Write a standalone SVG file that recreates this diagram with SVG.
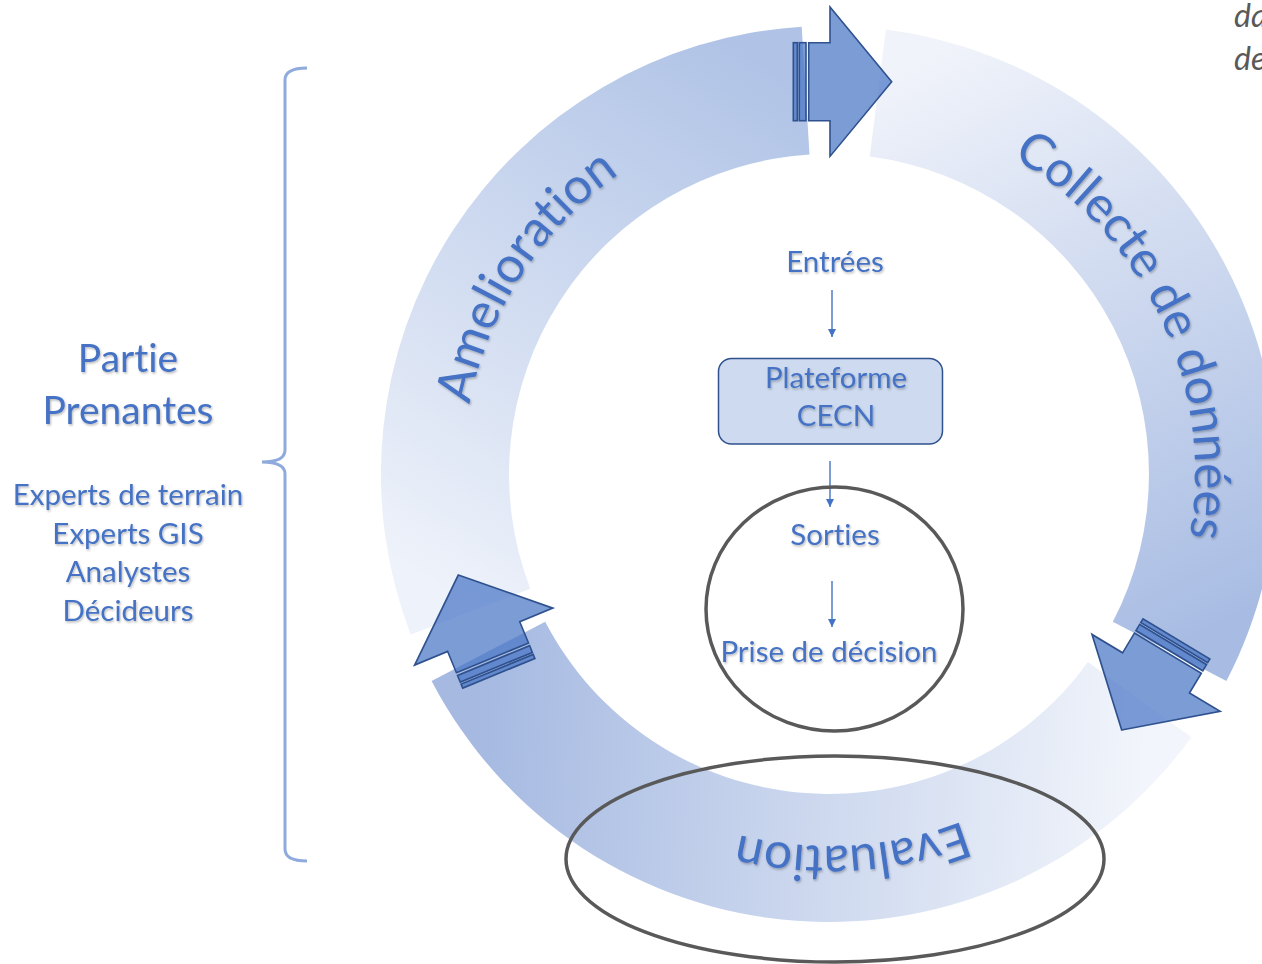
<svg xmlns="http://www.w3.org/2000/svg" width="1262" height="964" viewBox="0 0 1262 964">
<style>
text{font-variant-ligatures:none;font-feature-settings:"liga" 0,"clig" 0}
.t{font-family:Lato,"Open Sans","Liberation Sans",sans-serif;fill:#4472c4;filter:url(#ts)}
.arc{font-size:50px}
.side{font-size:29.5px;text-anchor:middle}
.big{font-size:39px;text-anchor:middle}
.ctr{font-size:29.5px;text-anchor:middle}
.blk{fill:#4472c4;fill-opacity:0.7;stroke:#2f528f;stroke-width:1.6;stroke-linejoin:miter}
.ln{stroke:#4472c4;stroke-width:1.4;fill:none}
.ring{fill:none;stroke:#595959;stroke-width:3.5}
</style>
<defs>
<filter id="ts" x="-10%" y="-20%" width="120%" height="150%">
<feDropShadow dx="1" dy="1.5" stdDeviation="1" flood-color="#000" flood-opacity="0.28"/>
</filter>
<linearGradient id="gA" gradientUnits="userSpaceOnUse" x1="470" y1="610" x2="805" y2="90">
<stop offset="0" stop-color="#eef2fa"/><stop offset="1" stop-color="#b0c3e6"/>
</linearGradient>
<linearGradient id="gC" gradientUnits="userSpaceOnUse" x1="880" y1="80" x2="1170" y2="650">
<stop offset="0" stop-color="#f0f3fa"/><stop offset="1" stop-color="#a8bce3"/>
</linearGradient>
<linearGradient id="gE" gradientUnits="userSpaceOnUse" x1="1150" y1="700" x2="480" y2="650">
<stop offset="0" stop-color="#f2f5fb"/><stop offset="1" stop-color="#a5b9e1"/>
</linearGradient>
<marker id="ah" viewBox="0 0 10 10" refX="10" refY="5" markerWidth="8" markerHeight="9" markerUnits="userSpaceOnUse" orient="auto">
<path d="M0,0 L10,5 L0,10 Z" fill="#4472c4"/>
</marker>
<g id="sarrow">
<path class="blk" d="M0,0 L-61.7,-74.7 L-61.7,-39 L-83,-39 L-83,39 L-61.7,39 L-61.7,74.7 Z"/>
<rect class="blk" x="-92.4" y="-39" width="6.7" height="78"/>
<rect class="blk" x="-98.4" y="-39" width="4" height="78"/>
</g>
<path id="pA" d="M 502.9 640.2 A 366 366 0 0 1 848.2 108.5"/>
<path id="pC" d="M 860.9 109.4 A 366 366 0 0 1 1128.8 683.9"/>
<path id="pE" d="M 1161.9 640.0 A 372 372 0 0 1 518.8 679.3"/>
</defs>
<rect width="1262" height="964" fill="#ffffff"/>

<g id="node-amelioration">
<path d="M 410.7 634.6 A 448 448 0 0 1 801.7 26.8 L 809.5 154.6 A 320 320 0 0 0 530.3 588.7 Z" fill="url(#gA)"/>
</g>
<g id="node-collecte">
<path d="M 885.9 29.6 A 448 448 0 0 1 1226.4 680.9 L 1112.8 621.8 A 320 320 0 0 0 869.7 156.6 Z" fill="url(#gC)"/>
</g>
<g id="node-evaluation">
<path d="M 1191.4 737.3 A 448 448 0 0 1 431.6 680.9 L 545.2 621.8 A 320 320 0 0 0 1087.9 662.1 Z" fill="url(#gE)"/>
</g>

<g id="connectors">
<use href="#sarrow" transform="translate(891.7,81.7)"/>
<use href="#sarrow" transform="translate(1121.7,730) rotate(121) scale(1.08,1)"/>
<use href="#sarrow" transform="translate(458.3,575) rotate(-112.4) scale(1.08,1)"/>
<line class="ln" x1="832" y1="290" x2="832" y2="337" marker-end="url(#ah)"/>
<line class="ln" x1="830" y1="461" x2="830" y2="507" marker-end="url(#ah)"/>
<line class="ln" x1="832" y1="581" x2="832" y2="627" marker-end="url(#ah)"/>
</g>

<g id="label-amelioration"><text class="t arc"><textPath href="#pA" startOffset="50%" text-anchor="middle">Amelioration</textPath></text></g>
<g id="label-collecte"><text class="t arc"><textPath href="#pC" startOffset="50%" text-anchor="middle">Collecte de données</textPath></text></g>
<g id="label-evaluation"><text class="t arc"><textPath href="#pE" startOffset="50%" text-anchor="middle">Evaluation</textPath></text></g>

<g id="node-entrees"><text class="t ctr" x="835" y="272">Entrées</text></g>
<g id="node-plateforme">
<rect x="718.5" y="358.5" width="224" height="85.5" rx="13" fill="#cddaef" stroke="#2f528f" stroke-width="1.5"/>
<text class="t ctr" x="836" y="388">Plateforme</text>
<text class="t ctr" x="836" y="426">CECN</text>
</g>
<g id="node-sorties"><text class="t ctr" x="835" y="545">Sorties</text></g>
<g id="node-prise"><text class="t ctr" x="829" y="662">Prise de décision</text></g>
<g id="node-sorties-circle"><ellipse class="ring" cx="834.5" cy="609" rx="128.5" ry="122"/></g>
<g id="node-evaluation-ellipse"><ellipse class="ring" cx="835" cy="859" rx="269" ry="103"/></g>

<g id="node-parties">
<path d="M 307 68 Q 285 68 285 80 L 285 450 Q 285 462 262 462 Q 285 462 285 474 L 285 849 Q 285 861 307 861" fill="none" stroke="#8faadc" stroke-width="3"/>
<text class="t big" x="128" y="372">Partie</text>
<text class="t big" x="128" y="424">Prenantes</text>
<text class="t side" x="128" y="505">Experts de terrain</text>
<text class="t side" x="128" y="544">Experts GIS</text>
<text class="t side" x="128" y="582">Analystes</text>
<text class="t side" x="128" y="621">Décideurs</text>
</g>

<g id="note-topright">
<text x="1234" y="27" font-family="Lato,'Open Sans',sans-serif" font-style="italic" font-size="32" fill="#595959">da</text>
<text x="1234" y="70" font-family="Lato,'Open Sans',sans-serif" font-style="italic" font-size="32" fill="#595959">de</text>
</g>
</svg>
